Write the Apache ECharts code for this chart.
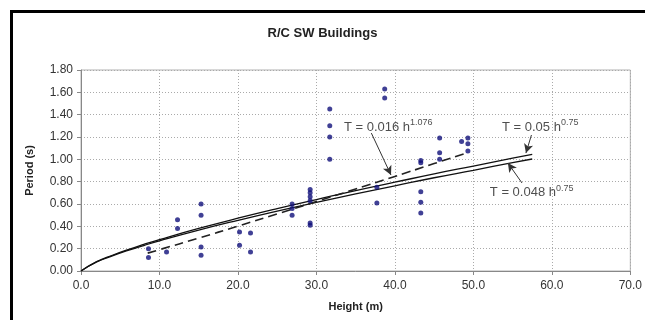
<!DOCTYPE html>
<html><head><meta charset="utf-8">
<script src="https://cdn.jsdelivr.net/npm/echarts@6/dist/echarts.min.js"></script>
<style>html,body{margin:0;padding:0;background:#fff}#c{width:645px;height:320px}</style>
</head><body><div id="c"></div>
<script>
// observed buildings
var heights = [8.6, 8.6, 10.9, 12.3, 12.3, 15.3, 15.3, 15.3, 15.3, 20.2, 20.2, 21.6, 21.6, 26.9, 26.9, 26.9, 29.2, 29.2, 29.2, 29.2, 29.2, 29.2, 31.7, 31.7, 31.7, 31.7, 37.7, 37.7, 38.7, 38.7, 43.3, 43.3, 43.3, 43.3, 43.3, 45.7, 45.7, 45.7, 48.5, 49.3, 49.3, 49.3];
var periods = [0.20, 0.12, 0.17, 0.46, 0.38, 0.60, 0.50, 0.215, 0.14, 0.35, 0.23, 0.34, 0.17, 0.60, 0.56, 0.50, 0.73, 0.70, 0.665, 0.63, 0.43, 0.41, 1.45, 1.30, 1.20, 1.00, 0.75, 0.61, 1.63, 1.55, 0.99, 0.97, 0.71, 0.615, 0.52, 1.19, 1.06, 1.00, 1.16, 1.19, 1.14, 1.075];
// code curves
var curveH = [0, 2, 4, 6, 8, 10, 15, 20, 25, 30, 35, 40, 45, 50, 55, 57.5];
var curveA = [0, 0.084, 0.141, 0.192, 0.238, 0.281, 0.381, 0.473, 0.559, 0.640, 0.720, 0.795, 0.870, 0.940, 1.010, 1.045];   // T = 0.05 h^0.75
var curveB = [0, 0.081, 0.136, 0.184, 0.228, 0.270, 0.366, 0.454, 0.537, 0.615, 0.691, 0.763, 0.835, 0.902, 0.970, 1.003]; // T = 0.048 h^0.75
var fitH = [8.5, 10, 15, 20, 25, 30, 35, 40, 45, 49];
var fitT = [0.160, 0.191, 0.295, 0.402, 0.511, 0.622, 0.734, 0.847, 0.962, 1.054]; // T = 0.016 h^1.076
var xTicks = [0, 10, 20, 30, 40, 50, 60, 70];
var yTicks = [0, 0.2, 0.4, 0.6, 0.8, 1.0, 1.2, 1.4, 1.6, 1.8];

function zip(a, b) { return a.map(function (v, i) { return [v, b[i]]; }); }

var FONT = '"Liberation Sans", Arial, sans-serif';
var rich = {
  t: { fontFamily: FONT, fontSize: 13, color: '#222' },
  s: { fontFamily: FONT, fontSize: 9, color: '#222', verticalAlign: 'bottom', padding: [0, 0, 8, 0] }
};
function annot(pos, main, sup) {
  return {
    type: 'scatter', data: [pos], symbolSize: 0, silent: true, z: 10,
    label: { show: true, position: 'right', distance: 0, formatter: '{t|' + main + '}{s|' + sup + '}', rich: rich }
  };
}
function arrow(from, to) {
  return [{ coord: from, symbol: 'none' }, { coord: to, symbol: 'arrow', symbolSize: [7, 9] }];
}

var chart = echarts.init(document.getElementById('c'));
chart.setOption({
  animation: false,
  title: { text: 'R/C SW Buildings', left: 'center', top: 22, textStyle: { fontFamily: FONT, fontSize: 13, fontWeight: 'bold', color: '#222' } },
  graphic: [{ type: 'rect', shape: { x: 11.5, y: 11.5, width: 700, height: 400 }, style: { fill: 'none', stroke: '#000', lineWidth: 3 }, z: 100 }],
  grid: { left: 81, right: 8, top: 70, bottom: 49, show: true, borderColor: '#b0b0b0', borderWidth: 1 },
  xAxis: {
    type: 'value', min: xTicks[0], max: xTicks[xTicks.length - 1], interval: 10,
    name: 'Height (m)', nameLocation: 'middle', nameGap: 30,
    nameTextStyle: { fontFamily: FONT, fontSize: 11, fontWeight: 'bold', color: '#222' },
    axisLine: { lineStyle: { color: '#888' } },
    axisTick: { show: true, length: 4, lineStyle: { color: '#888' } },
    axisLabel: { fontFamily: FONT, fontSize: 12, color: '#333', margin: 9, formatter: function (v) { return v.toFixed(1); } },
    splitLine: { show: true, lineStyle: { color: '#aaa', type: [1, 2] } }
  },
  yAxis: {
    type: 'value', min: yTicks[0], max: yTicks[yTicks.length - 1], interval: 0.2,
    name: 'Period (s)', nameLocation: 'middle', nameGap: 46, nameRotate: 90,
    nameTextStyle: { fontFamily: FONT, fontSize: 11, fontWeight: 'bold', color: '#222' },
    axisLine: { show: true, lineStyle: { color: '#888' } },
    axisTick: { show: true, length: 4, lineStyle: { color: '#888' } },
    axisLabel: { fontFamily: FONT, fontSize: 12, color: '#333', margin: 8, formatter: function (v) { return v.toFixed(2); } },
    splitLine: { show: true, lineStyle: { color: '#aaa', type: [1, 2] } }
  },
  series: [
    { type: 'line', data: zip(curveH, curveA), smooth: true, showSymbol: false, lineStyle: { color: '#111', width: 1.3 }, z: 3,
      markLine: { silent: true, lineStyle: { color: '#333', width: 1, type: 'solid' }, label: { show: false },
        data: [arrow([57.4, 1.218], [56.7, 1.056]), arrow([56.2, 0.788], [54.4, 0.967]), arrow([37.0, 1.235], [39.5, 0.86])] } },
    { type: 'line', data: zip(curveH, curveB), smooth: true, showSymbol: false, lineStyle: { color: '#111', width: 1.3 }, z: 3 },
    { type: 'line', data: zip(fitH, fitT), smooth: true, showSymbol: false, lineStyle: { color: '#222', width: 1.6, type: [9, 5] }, z: 3 },
    { type: 'scatter', data: zip(heights, periods), symbol: 'circle', symbolSize: 5, itemStyle: { color: '#10107a' }, z: 4 },
    annot([33.5, 1.29], 'T = 0.016 h', '1.076'),
    annot([53.65, 1.29], 'T = 0.05 h', '0.75'),
    annot([52.1, 0.70], 'T = 0.048 h', '0.75')
  ]
});
</script></body></html>
